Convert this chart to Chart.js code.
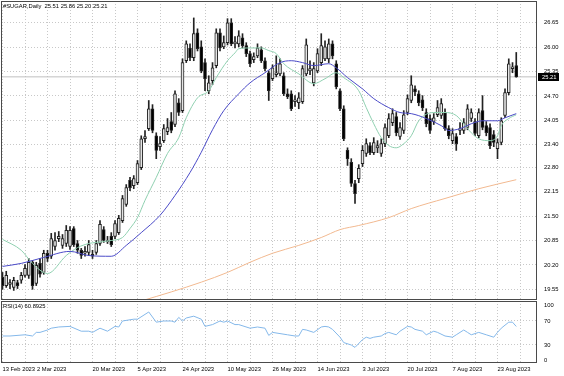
<!DOCTYPE html>
<html>
<head>
<meta charset="utf-8">
<script src="https://cdn.jsdelivr.net/npm/chart.js@4.4.0/dist/chart.umd.min.js"></script>
<style>
  html, body { margin: 0; padding: 0; background: #fff; }
  #wrap { position: relative; width: 564px; height: 376px; overflow: hidden; background: #fff; }
  canvas { position: absolute; left: 0; }
  #main { top: 0; }
  #rsi { top: 300px; }
</style>
</head>
<body>
<div id="wrap">
  <canvas id="main" width="564" height="301"></canvas>
  <canvas id="rsi" width="564" height="76"></canvas>
</div>
<script>
// #SUGAR daily, 13 Feb 2023 .. 30 Aug 2023 (one entry per bar)
const opens = [19.87,19.65,19.68,19.60,19.73,19.79,19.92,19.92,20.27,19.71,20.24,20.00,20.51,20.43,20.69,20.90,20.72,20.77,20.69,21.17,
  20.77,20.59,20.51,20.53,20.48,20.53,20.77,21.14,20.82,20.96,20.96,21.06,21.38,21.81,22.45,22.31,22.39,22.79,23.56,23.83,
  24.36,23.64,23.35,23.51,23.75,24.02,23.94,24.52,24.31,25.64,25.98,25.72,26.38,26.01,25.59,24.84,25.11,25.51,26.38,26.01,
  26.12,26.65,26.09,26.09,26.25,26.04,25.83,25.67,25.77,25.93,25.64,25.32,25.16,25.27,25.29,25.24,24.76,24.76,24.55,24.52,
  24.55,25.29,25.37,25.05,25.37,25.59,25.69,25.69,26.09,25.56,24.84,24.36,23.25,22.93,22.37,22.50,22.90,23.17,23.38,23.19,
  23.32,23.17,23.43,23.64,23.99,24.15,23.62,23.78,24.26,24.58,24.89,24.76,24.60,24.26,24.10,24.02,24.20,24.18,24.26,23.83,
  23.51,23.62,23.78,23.78,23.86,24.10,24.02,23.64,24.31,23.91,23.86,23.67,23.30,23.46,24.18,24.79,25.43,25.51];
const highs = [20.00,20.03,19.81,19.87,19.79,20.00,20.21,20.37,20.32,20.27,20.37,20.59,20.59,21.04,21.06,21.09,21.01,21.25,21.22,21.22,
  20.85,20.64,20.69,20.85,20.59,20.85,21.38,21.22,20.96,21.06,21.38,21.52,22.05,22.34,22.53,22.58,22.98,23.64,23.78,24.58,
  24.47,23.72,23.62,23.94,24.10,24.26,24.84,24.63,25.69,26.17,26.09,26.78,26.49,26.17,25.69,25.24,25.59,26.49,26.49,26.30,
  26.76,26.76,26.28,26.44,26.36,26.12,25.90,25.85,26.09,26.01,25.72,25.37,25.53,25.77,25.69,25.32,24.89,24.84,24.71,24.79,
  25.51,26.22,25.64,25.59,25.96,26.36,26.17,26.22,26.17,25.64,24.89,24.44,23.32,23.03,22.45,22.87,23.38,23.56,23.46,23.59,
  23.51,23.56,23.96,24.23,24.36,24.26,23.99,24.31,24.73,25.24,24.97,24.84,24.71,24.36,24.20,24.23,24.58,24.63,24.36,23.91,
  23.83,23.70,23.99,24.10,24.47,24.36,24.10,24.36,24.71,24.02,23.96,23.78,23.56,24.12,24.89,25.69,25.59,25.86];
const lows = [19.55,19.60,19.57,19.52,19.57,19.71,19.87,19.84,19.55,19.65,19.87,19.95,20.29,20.37,20.59,20.82,20.64,20.69,20.61,20.69,
  20.51,20.37,20.43,20.45,20.37,20.48,20.72,20.80,20.77,20.69,20.90,21.01,21.33,21.76,22.18,22.23,22.34,22.74,23.46,23.78,
  23.72,23.03,23.25,23.46,23.67,23.72,23.88,24.18,24.26,25.59,25.64,25.64,25.90,25.32,24.84,24.76,25.00,25.45,25.90,25.96,
  26.06,26.04,25.98,26.01,25.98,25.75,25.48,25.59,25.72,25.59,25.37,24.58,25.11,25.21,25.24,24.71,24.63,24.31,24.42,24.36,
  24.50,25.24,25.27,24.97,25.32,25.51,25.64,25.59,25.69,24.89,24.31,23.51,22.85,22.29,21.84,22.39,22.82,23.09,23.14,23.14,
  23.19,23.09,23.35,23.59,23.91,23.64,23.54,23.70,24.20,24.52,24.71,24.44,24.31,23.88,23.70,23.94,24.15,24.10,23.78,23.56,
  23.43,23.25,23.67,23.70,23.80,24.02,23.64,23.59,23.80,23.64,23.30,23.35,23.03,23.40,24.12,24.73,25.32,25.20];
const closes = [19.65,19.92,19.73,19.79,19.65,19.92,20.11,20.27,19.65,20.19,19.95,20.51,20.37,20.90,20.85,20.96,20.90,21.12,21.12,20.74,
  20.59,20.45,20.56,20.74,20.43,20.77,21.28,20.85,20.85,20.74,21.30,21.44,21.97,22.26,22.26,22.50,22.90,23.56,23.62,24.36,
  23.78,23.25,23.43,23.83,23.86,23.78,24.76,24.26,25.59,26.09,25.72,26.36,25.96,25.37,25.16,25.05,25.45,26.38,25.98,26.12,
  26.65,26.09,26.14,26.30,26.04,25.83,25.56,25.75,25.98,25.64,25.43,24.84,25.45,25.32,25.56,24.76,24.68,24.36,24.60,24.65,
  25.43,26.06,25.43,25.43,25.83,26.04,26.01,26.09,25.77,24.95,24.36,23.56,23.03,22.37,22.10,22.77,23.25,23.43,23.19,23.46,
  23.38,23.43,23.86,24.10,24.23,23.72,23.86,24.20,24.63,25.00,24.81,24.52,24.39,23.96,23.78,24.12,24.39,24.50,23.83,23.64,
  23.70,23.43,23.83,23.99,24.36,24.26,23.70,24.26,23.86,23.72,23.38,23.46,23.46,24.04,24.79,25.56,25.48,25.21];

// moving averages, read at the bars listed
const maFastBars = [0,5,8,12,17,20,23,25,29,32,34,36,38,41,44,47,49,52,55,57,60,62,63,66,69,71,73,75,79,83,86,89,91,95,97,99,101,103,105,107,109,111,115,118,121,123,125,127,130,132,133,135,137];
const maFastValues = [20.88,20.59,20.24,19.97,20.45,20.66,20.77,20.80,20.85,20.93,21.17,21.46,21.92,22.53,23.17,23.59,24.12,24.65,24.84,25.19,25.64,25.85,25.96,25.98,25.98,25.91,25.83,25.56,25.29,25.03,25.16,25.32,25.19,24.84,24.39,23.96,23.59,23.38,23.32,23.43,23.64,24.04,24.26,24.26,24.18,23.96,23.72,23.56,23.51,23.64,23.91,24.10,24.20];
const maMidBars = [0,5,11,18,23,29,33,37,42,46,50,53,56,59,63,66,70,74,77,80,83,87,89,92,96,99,103,106,109,113,117,119,122,125,128,132,134,137];
const maMidValues = [20.16,20.24,20.40,20.56,20.45,20.43,20.72,21.06,21.52,22.05,22.66,23.20,23.80,24.31,24.76,25.05,25.32,25.59,25.64,25.59,25.51,25.56,25.45,25.19,24.89,24.63,24.39,24.26,24.23,24.10,23.91,23.78,23.83,23.96,24.04,24.04,24.12,24.23];
const maSlowBars = [37,45,53,60,66,72,79,85,90,95,103,109,118,127,137];
const maSlowValues = [19.24,19.48,19.74,20.00,20.27,20.51,20.72,20.93,21.14,21.25,21.46,21.70,21.97,22.23,22.47];

// RSI(14)
const rsiBars = [0,2,6,8,9,10,12,13,15,18,21,23,24,26,28,30,31,32,35,36,38,39,41,43,45,46,47,48,49,51,53,54,56,58,59,60,62,63,66,68,70,71,72,74,76,78,79,80,81,83,85,86,87,88,90,91,93,94,96,97,98,99,101,102,103,105,106,108,109,110,112,113,115,116,118,120,121,123,124,125,127,129,131,132,133,135,136,137];
const rsiValues = [45,45,47,45,51,51,55,58,60,61,53,53,51,58,53,61,60,70,73,73,81,85,68,70,70,68,76,70,75,78,73,61,64,70,68,70,64,64,58,60,58,46,51,49,47,45,45,56,55,51,60,61,60,56,43,34,30,26,39,43,41,43,45,49,51,47,53,61,60,56,53,47,53,51,45,43,47,55,51,47,51,47,43,51,58,68,68,60.8925];

// axis ticks
const priceTicks = [19.55, 20.20, 20.85, 21.50, 22.15, 22.80, 23.40, 24.05, 24.70, 25.35, 26.00, 26.65];
const rsiTicks = [0, 30, 70, 100];
const rsiLevels = [30, 70];
const dateLabels = ['13 Feb 2023','2 Mar 2023','20 Mar 2023','5 Apr 2023','24 Apr 2023','10 May 2023','26 May 2023','14 Jun 2023','3 Jul 2023','20 Jul 2023','7 Aug 2023','23 Aug 2023'];
const dateLabelBars = [0, 9.2, 24, 36, 48, 60, 72, 84, 96, 108, 120, 132];
const barsPerGrid = 6;

const GRID = '#c8c8c8';
const FRAME = '#4a4a4a';
const TEXT_FONT = "'Liberation Sans', Arial, sans-serif";
const AXIS_FONT = "'Liberation Sans Narrow', 'Arial Narrow', 'Liberation Sans', sans-serif";
const AXIS_SIZE = 5.8;
const X_MIN = -0.4, X_MAX = 142.53;

Chart.defaults.font.family = AXIS_FONT;
Chart.defaults.font.size = AXIS_SIZE;
Chart.defaults.color = '#000';

const gridBars = [];
for (let b = 0; b <= X_MAX; b += barsPerGrid) gridBars.push(b);

const toPoints = (xs, ys) => xs.map((x, i) => ({ x: x, y: ys[i] }));
const last = closes.length - 1;

// keep the plot area where the layout padding puts it
const noEdgePadding = s => { s.paddingTop = 0; s.paddingBottom = 0; s.paddingLeft = 0; s.paddingRight = 0; };

// frame + caption text, drawn from chartArea
const framePlugin = {
  id: 'frame',
  afterDraw(chart, args, opts) {
    const { ctx, chartArea: a } = chart;
    ctx.save();
    ctx.strokeStyle = FRAME;
    ctx.lineWidth = 1;
    ctx.strokeRect(a.left + 0.5, a.top + 0.5, a.right - a.left - 1, a.bottom - a.top - 1);
    if (opts.caption) {
      ctx.fillStyle = '#000';
      ctx.font = '5.8px ' + TEXT_FONT;
      ctx.textBaseline = 'middle';
      ctx.fillText(opts.caption, a.left + 2, a.top + 5.5);
    }
    ctx.restore();
  }
};

// black price box on the right axis at the last close
const priceBoxPlugin = {
  id: 'priceBox',
  afterDraw(chart) {
    const { ctx, chartArea: a } = chart;
    const y = Math.round(chart.scales.y.getPixelForValue(closes[last]));
    ctx.save();
    ctx.fillStyle = '#000';
    ctx.fillRect(a.right + 1, y - 4, 21, 8);
    ctx.fillStyle = '#fff';
    ctx.font = AXIS_SIZE + 'px ' + AXIS_FONT;
    ctx.textBaseline = 'middle';
    ctx.fillText(closes[last].toFixed(2), a.right + 5, y);
    ctx.restore();
  }
};

// RSI scale labels, kept inside the sub-window like the terminal does
const rsiLabelPlugin = {
  id: 'rsiLabels',
  afterDraw(chart) {
    const { ctx, chartArea: a } = chart;
    const y = chart.scales.y;
    ctx.save();
    ctx.fillStyle = '#000';
    ctx.font = AXIS_SIZE + 'px ' + AXIS_FONT;
    ctx.textBaseline = 'middle';
    rsiTicks.forEach(v => {
      const py = Math.min(Math.max(y.getPixelForValue(v), a.top + 4), a.bottom - 2.5);
      ctx.fillText(String(v), a.right + 7, py);
    });
    ctx.restore();
  }
};

const wickData = closes.map((c, i) => ({ x: i, y: [lows[i], highs[i]] }));
const bodyData = closes.map((c, i) => ({ x: i, y: [opens[i], c] }));
const bodyFill = closes.map((c, i) => (c >= opens[i] ? '#e4e4e4' : '#000'));

new Chart(document.getElementById('main'), {
  type: 'bar',
  data: {
    datasets: [
      { type: 'line', data: toPoints(maSlowBars, maSlowValues), borderColor: '#f2b990', borderWidth: 1, pointRadius: 0, cubicInterpolationMode: 'monotone', order: 0 },
      { type: 'line', data: toPoints(maMidBars, maMidValues), borderColor: '#4b4bc8', borderWidth: 1, pointRadius: 0, cubicInterpolationMode: 'monotone', order: 0 },
      { type: 'line', data: toPoints(maFastBars, maFastValues), borderColor: '#8fd0b0', borderWidth: 1, pointRadius: 0, cubicInterpolationMode: 'monotone', order: 0 },
      { type: 'line', data: [{ x: X_MIN, y: closes[last] }, { x: X_MAX, y: closes[last] }], borderColor: '#c0c0c0', borderWidth: 1, pointRadius: 0, order: 4 },
      { type: 'bar', data: wickData, backgroundColor: '#222', borderWidth: 0, barThickness: 1, grouped: false, order: 3 },
      { type: 'bar', data: bodyData, backgroundColor: bodyFill, borderColor: '#222', borderWidth: 1, borderSkipped: false, barThickness: 3, minBarLength: 1, grouped: false, order: 2 }
    ]
  },
  options: {
    responsive: false,
    animation: false,
    devicePixelRatio: 1,
    events: [],
    layout: { padding: { left: 1, top: 1, right: 0, bottom: 1 } },
    plugins: {
      legend: { display: false },
      tooltip: { enabled: false },
      frame: { caption: '#SUGAR,Daily  ' + [opens[last], highs[last], lows[last], closes[last]].map(v => v.toFixed(2)).join(' ') }
    },
    scales: {
      x: {
        type: 'linear', min: X_MIN, max: X_MAX, offset: false,
        grid: { color: GRID, offset: false, drawTicks: false },
        border: { display: false, dash: [1, 2] },
        ticks: { display: false },
        afterBuildTicks: s => { s.ticks = gridBars.map(v => ({ value: v })); },
        afterFit: s => { s.height = 0; noEdgePadding(s); }
      },
      y: {
        position: 'right', min: 19.265, max: 27.231,
        grid: { color: GRID, drawTicks: false },
        border: { display: false, dash: [1, 2] },
        ticks: { padding: 7, callback: v => v.toFixed(2) },
        afterBuildTicks: s => { s.ticks = priceTicks.map(v => ({ value: v })); },
        afterFit: s => { s.width = 27; noEdgePadding(s); }
      }
    }
  },
  plugins: [framePlugin, priceBoxPlugin]
});

new Chart(document.getElementById('rsi'), {
  type: 'line',
  data: {
    datasets: [
      { data: toPoints(rsiBars, rsiValues), borderColor: '#84b8ea', borderWidth: 1, pointRadius: 0 }
    ]
  },
  options: {
    responsive: false,
    animation: false,
    devicePixelRatio: 1,
    events: [],
    layout: { padding: { left: 1, top: 1, right: 0, bottom: 0 } },
    plugins: {
      legend: { display: false },
      tooltip: { enabled: false },
      frame: { caption: 'RSI(14) ' + rsiValues[rsiValues.length - 1].toFixed(4) }
    },
    scales: {
      x: {
        type: 'linear', min: X_MIN, max: X_MAX, offset: false,
        grid: { color: GRID, offset: false, drawTicks: false },
        border: { display: false, dash: [1, 2] },
        ticks: { display: false },
        afterBuildTicks: s => { s.ticks = gridBars.map(v => ({ value: v })); },
        afterFit: s => { s.height = 0; noEdgePadding(s); }
      },
      dates: {
        type: 'linear', position: 'bottom', axis: 'x', min: X_MIN, max: X_MAX, offset: false,
        grid: { display: false, drawTicks: false },
        border: { display: false },
        ticks: {
          align: 'start', autoSkip: false, maxRotation: 0, padding: 3,
          callback: (v, i) => dateLabels[i]
        },
        afterBuildTicks: s => { s.ticks = dateLabelBars.map(v => ({ value: v })); },
        afterFit: s => { s.height = 13; noEdgePadding(s); }
      },
      y: {
        position: 'right', min: 0, max: 103.3,
        grid: { color: c => (rsiLevels.includes(c.tick && c.tick.value) ? GRID : 'rgba(0,0,0,0)'), drawTicks: false },
        border: { display: false, dash: [1, 2] },
        ticks: { display: false },
        afterBuildTicks: s => { s.ticks = rsiTicks.map(v => ({ value: v })); },
        afterFit: s => { s.width = 27; noEdgePadding(s); }
      }
    }
  },
  plugins: [framePlugin, rsiLabelPlugin]
});
</script>
</body>
</html>
